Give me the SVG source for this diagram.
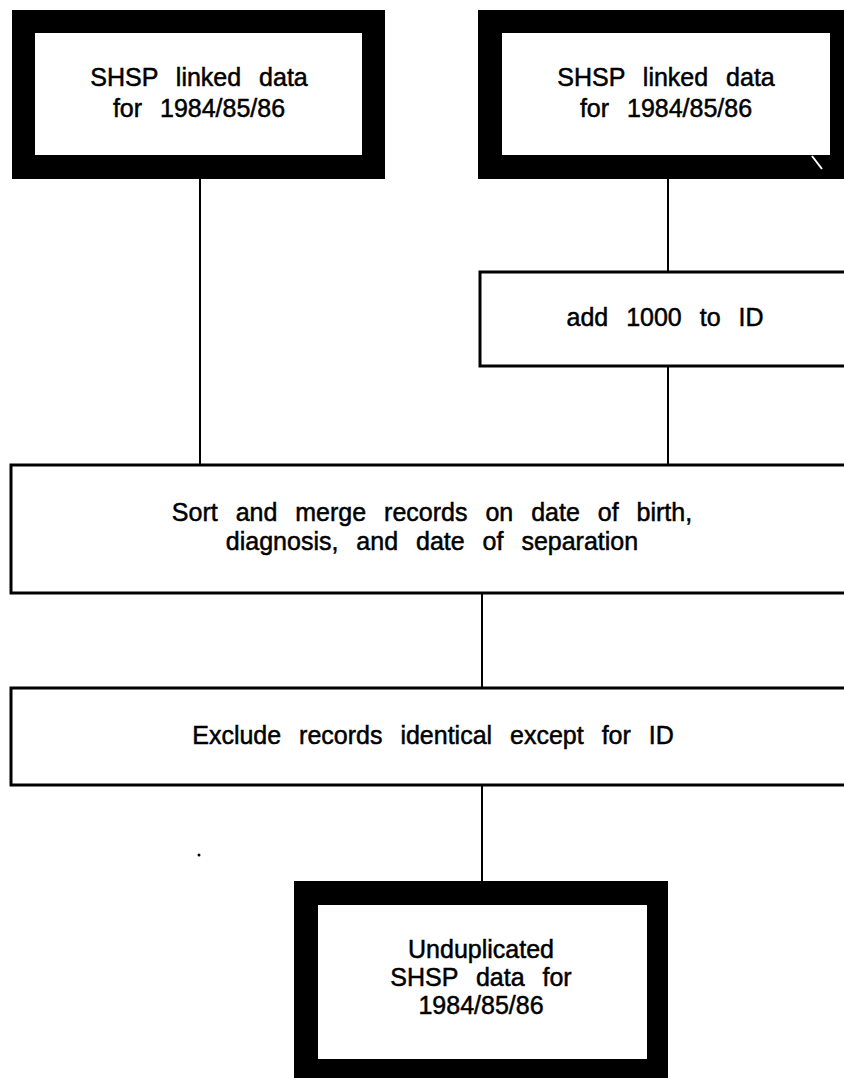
<svg xmlns="http://www.w3.org/2000/svg" width="844" height="1078" viewBox="0 0 844 1078">
<style>
  .bg { fill: #ffffff; }
  .thick { fill: #000000; }
  .inner { fill: #ffffff; }
  .proc { fill: #ffffff; stroke: #000000; stroke-width: 3; }
  .conn { stroke: #000000; stroke-width: 2; fill: none; }
  .lbl { font-family: "Liberation Sans", Arial, Helvetica, sans-serif; font-size: 25px; fill: #000000; stroke: #000000; stroke-width: 0.5; text-anchor: middle; word-spacing: 11px; }
</style>
<rect class="bg" x="0" y="0" width="844" height="1078"/>

<g id="connectors">
  <line class="conn" x1="200" y1="179" x2="200" y2="465"/>
  <line class="conn" x1="668" y1="179" x2="668" y2="272"/>
  <line class="conn" x1="668" y1="366" x2="668" y2="465"/>
  <line class="conn" x1="482" y1="593" x2="482" y2="688"/>
  <line class="conn" x1="482" y1="785" x2="482" y2="881"/>
</g>

<g id="src1">
  <rect class="thick" x="12" y="10" width="373" height="169"/>
  <rect class="inner" x="35" y="33" width="327" height="122"/>
  <text class="lbl" x="199" y="86">SHSP linked data</text>
  <text class="lbl" x="199" y="117">for 1984/85/86</text>
</g>

<g id="src2">
  <rect class="thick" x="478" y="10" width="366" height="169"/>
  <rect class="inner" x="502" y="33" width="328" height="122"/>
  <line x1="812" y1="156" x2="822" y2="169" stroke="#ffffff" stroke-width="2"/>
  <text class="lbl" x="666" y="86">SHSP linked data</text>
  <text class="lbl" x="666" y="117">for 1984/85/86</text>
</g>

<g id="add">
  <rect class="proc" x="480" y="272" width="380" height="94"/>
  <text class="lbl" x="665" y="326">add 1000 to ID</text>
</g>

<g id="sort">
  <rect class="proc" x="11" y="465" width="850" height="128"/>
  <text class="lbl" x="432" y="521">Sort and merge records on date of birth,</text>
  <text class="lbl" x="432" y="550">diagnosis, and date of separation</text>
</g>

<g id="exclude">
  <rect class="proc" x="11" y="688" width="850" height="97"/>
  <text class="lbl" x="433" y="744">Exclude records identical except for ID</text>
</g>

<g id="result">
  <rect class="thick" x="294" y="881" width="374" height="197"/>
  <rect class="inner" x="318" y="905" width="329" height="154"/>
  <text class="lbl" x="481" y="958">Unduplicated</text>
  <text class="lbl" x="481" y="986">SHSP data for</text>
  <text class="lbl" x="481" y="1014">1984/85/86</text>
</g>

<circle cx="199" cy="855" r="1.5" fill="#000000"/>
</svg>
